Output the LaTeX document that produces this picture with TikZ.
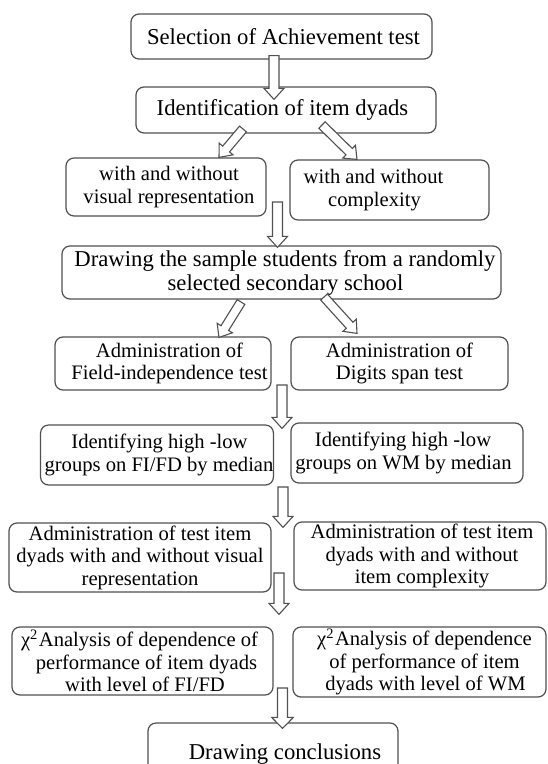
\documentclass[tikz,border=0pt]{standalone}
\usepackage{fontspec}
\setmainfont{Liberation Serif}
\usetikzlibrary{calc}
\definecolor{boxgray}{RGB}{80,80,80}
\tikzset{
 box/.style={draw=boxgray, line width=1.2pt, rounded corners=8pt, fill=white, align=center, inner sep=0pt},
 big/.style={font=\fontsize{22.7}{24}\selectfont},
 small/.style={font=\fontsize{20.6}{22.5}\selectfont},
 arr/.style={draw=boxgray, line width=1.1pt, fill=white, line join=miter},
}
\newcommand\blockarr[4]{%
 \coordinate (tmpH) at ($(#2)!11pt!(#1)$);
 \path[arr] ($(#1)!#3!90:(#2)$) -- ($(tmpH)!#3!90:(#2)$) -- ($(tmpH)!#4!90:(#2)$) -- (#2)
   -- ($(tmpH)!#4!-90:(#2)$) -- ($(tmpH)!#3!-90:(#2)$) -- ($(#1)!#3!-90:(#2)$) -- cycle;
}
\newcommand\sh[1]{\hspace*{#1}}
\begin{document}
\begin{tikzpicture}[x=1pt,y=-1pt]
\fill[white] (0,0) rectangle (548,764);
\clip (0,0) rectangle (548,764);
\useasboundingbox (0,0) rectangle (548,764);

\node[box,big,minimum width=301pt,minimum height=45pt] (b1) at (281.5,36.5) {\sh{4pt}Selection of Achievement test};
\node[box,big,minimum width=300pt,minimum height=46pt] (b2) at (286,110) {\sh{-7pt}Identification of item dyads};
\node[box,small,minimum width=200pt,minimum height=58pt] (b3a) at (166,187) {\sh{6pt}with and without\\\sh{6pt}visual representation};
\node[box,small,minimum width=199pt,minimum height=60pt] (b3b) at (389.5,190) {\sh{-32pt}with and without\\\sh{-30pt}complexity};
\node[box,big,minimum width=439pt,minimum height=53pt] (b4) at (281.5,272.5) {\sh{7pt}Drawing the sample students from a randomly\\\sh{8pt}selected secondary school};
\node[box,small,minimum width=216pt,minimum height=53pt] (b5a) at (163,363.5) {\sh{13pt}Administration of\\\sh{13pt}Field-independence test};
\node[box,small,minimum width=217pt,minimum height=53pt] (b5b) at (399.5,363.5) {Administration of\\Digits span test};
\node[box,small,minimum width=232pt,minimum height=60pt] (b6a) at (157,455) {\sh{5pt}Identifying high -low\\\sh{4pt}groups on FI/FD by median};
\node[box,small,minimum width=232pt,minimum height=60pt] (b6b) at (407,453) {\sh{-8pt}Identifying high -low\\\sh{-7pt}groups on WM by median};
\node[box,small,minimum width=262pt,minimum height=69pt] (b7a) at (140,557.5) {Administration of test item\\dyads with and without visual\\representation};
\node[box,small,minimum width=252pt,minimum height=68pt] (b7b) at (420,556) {\sh{4pt}Administration of test item\\\sh{4pt}dyads with and without\\\sh{4pt}item complexity};
\node[box,small,minimum width=261pt,minimum height=68pt] (b8a) at (142.5,661) {\sh{-6pt}χ\textsuperscript{2}\kern1pt Analysis of dependence of\\\sh{8pt}performance of item dyads\\\sh{5pt}with level of FI/FD};
\node[box,small,minimum width=253pt,minimum height=70pt] (b8b) at (419.5,662) {\sh{10pt}χ\textsuperscript{2}\kern1pt Analysis of dependence\\\sh{10pt}of performance of item\\\sh{12pt}dyads with level of WM};
\node[box,big,minimum width=250pt,minimum height=68pt,text depth=0pt] (b9) at (273,757) {\raisebox{10pt}{\sh{24pt}Drawing conclusions}};

% connectors
\coordinate (a1s) at ([xshift=-7.5pt,yshift=4pt]b1.south);
\coordinate (a1e) at ([xshift=-12pt,yshift=-13pt]b2.north);
\blockarr{a1s}{a1e}{5pt}{10pt}

\coordinate (a2ls) at (243,129);
\coordinate (a2le) at ([xshift=53pt]b3a.north);
\blockarr{a2ls}{a2le}{4.5pt}{9pt}
\coordinate (a2rs) at (322,125);
\coordinate (a2re) at ([xshift=-32.5pt]b3b.north);
\blockarr{a2rs}{a2re}{4.5pt}{9pt}

\coordinate (a3s) at (277.5,202);
\coordinate (a3e) at ([yshift=-2pt]b4.north -| a3s);
\blockarr{a3s}{a3e}{5pt}{10pt}

\coordinate (a4ls) at (241,302);
\coordinate (a4le) at ([xshift=56pt,yshift=-1pt]b5a.north);
\blockarr{a4ls}{a4le}{4.5pt}{9pt}
\coordinate (a4rs) at (324,297);
\coordinate (a4re) at ([xshift=-42.5pt,yshift=3pt]b5b.north);
\blockarr{a4rs}{a4re}{4.5pt}{9pt}

\coordinate (a5s) at (282,385);
\coordinate (a5e) at ([yshift=-4pt]b6a.north -| a5s);
\blockarr{a5s}{a5e}{5pt}{10pt}
\coordinate (a6s) at (283,487);
\coordinate (a6e) at ([yshift=-5pt]b7a.north -| a6s);
\blockarr{a6s}{a6e}{5pt}{10pt}
\coordinate (a7s) at (279,573);
\coordinate (a7e) at ([yshift=12pt]b8a.north -| a7s);
\blockarr{a7s}{a7e}{5pt}{10pt}
\coordinate (a8s) at (282.5,688);
\coordinate (a8e) at ([yshift=-6pt]b9.north -| a8s);
\blockarr{a8s}{a8e}{5pt}{10.8pt}
\end{tikzpicture}
\end{document}
